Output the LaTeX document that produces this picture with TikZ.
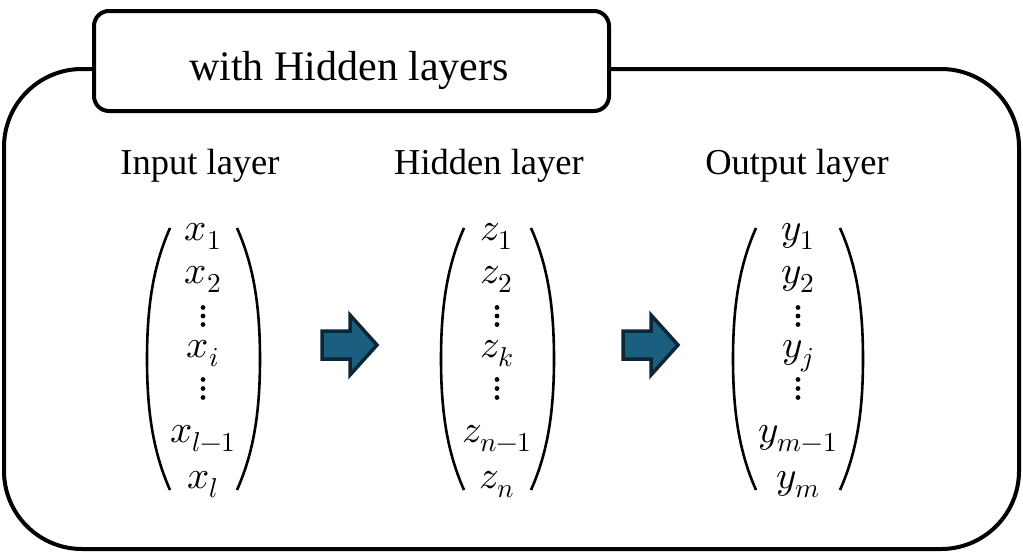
\documentclass[tikz,border=0pt]{standalone}
\usepackage{fontspec}
\usepackage{unicode-math}
\setmainfont{Liberation Serif}
\setmathfont{Latin Modern Math}
\definecolor{arrowfill}{RGB}{26,94,128}
\definecolor{arrowline}{RGB}{12,38,54}
\newcommand{\parpair}[3]{% center x, left extreme, right extreme
  \draw[paren] (#2+23,228) .. controls (#2+8,262) and (#2,300) .. (#2,359)
               .. controls (#2,418) and (#2+8,456) .. (#2+23,490);
  \draw[paren] (#3-23,228) .. controls (#3-8,262) and (#3,300) .. (#3,359)
               .. controls (#3,418) and (#3-8,456) .. (#3-23,490);
  \foreach \yy in {307.5,316,324.5,379.5,388.5,397.5}{\fill (#1,\yy) circle (2.4);}
}
\begin{document}
\begin{tikzpicture}[x=1pt,y=-1pt,line join=round,
  frame/.style={draw=black,line width=4pt},
  lab/.style={anchor=base,inner sep=0pt,font=\fontsize{36.5}{40}\selectfont},
  entry/.style={anchor=base,inner sep=0pt,font=\fontsize{39}{42}\selectfont},
  paren/.style={line width=2.6pt},
  blockarrow/.style={fill=arrowfill,draw=arrowline,line width=3.5pt,line join=miter}]
\useasboundingbox (0,0) rectangle (1023,552);
% outer frame
\draw[frame,rounded corners=78pt] (4,69) rectangle (1019,549);
% title box
\node[frame,fill=white,rounded corners=15pt,minimum width=515pt,minimum height=100pt,anchor=north west] (title) at (92,9) {};
\node[anchor=base,inner sep=0pt,font=\fontsize{42}{46}\selectfont] (titletext) at (349,80) {with Hidden layers};
% labels
\node[lab] (inlab) at (200,174) {Input layer};
\node[lab] (hidlab) at (489,174) {Hidden layer};
\node[lab] (outlab) at (797,174) {Output layer};
% input vector
\node[entry] (x1) at (203,240) {$x_1$};
\node[entry] (x2) at (203,283) {$x_2$};
\node[entry] (xi) at (203,357) {$x_i$};
\node[entry] (xl1) at (203,442) {$x_{l-1}$};
\node[entry] (xl) at (203,488) {$x_l$};
\parpair{203}{147}{260}
% hidden vector
\node[entry] (z1) at (497,240) {$z_1$};
\node[entry] (z2) at (497,283) {$z_2$};
\node[entry] (zk) at (497,357) {$z_k$};
\node[entry] (zn1) at (497,442) {$z_{n-1}$};
\node[entry] (zn) at (497,488) {$z_n$};
\parpair{497}{441}{554}
% output vector
\node[entry] (y1) at (798,240) {$y_1$};
\node[entry] (y2) at (798,283) {$y_2$};
\node[entry] (yj) at (798,357) {$y_j$};
\node[entry] (ym1) at (798,442) {$y_{m-1}$};
\node[entry] (ym) at (798,488) {$y_m$};
\parpair{798}{733}{863}
% block arrows
\draw[blockarrow] (322,331) -- (350,331) -- (350,315) -- (377,345) -- (350,375) -- (350,359) -- (322,359) -- cycle;
\draw[blockarrow] (623,331) -- (651,331) -- (651,315) -- (678,345) -- (651,375) -- (651,359) -- (623,359) -- cycle;
\end{tikzpicture}
\end{document}
